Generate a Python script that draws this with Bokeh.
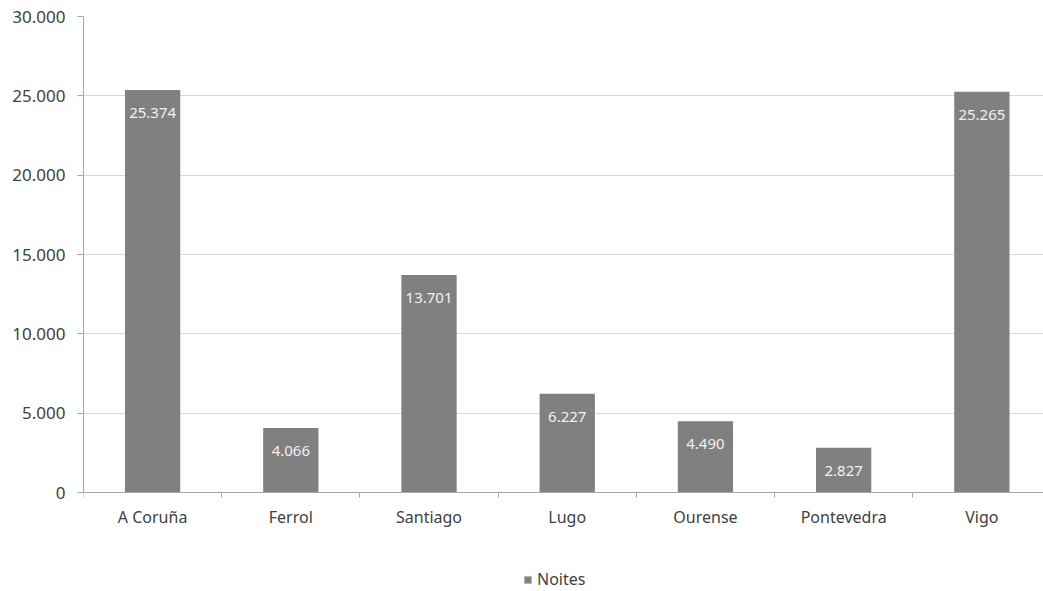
from bokeh.plotting import figure
from bokeh.models import (ColumnDataSource, Range1d, FixedTicker, LabelSet,
                          Legend, LegendItem)
from bokeh.core.properties import value
from bokeh.embed import file_html
from bokeh.resources import INLINE

categories = ["A Coruña", "Ferrol", "Santiago", "Lugo", "Ourense", "Pontevedra", "Vigo"]
noites = [25374, 4066, 13701, 6227, 4490, 2827, 25265]
y_ticks = [0, 5000, 10000, 15000, 20000, 25000, 30000]
series_name = "Noites"

FONT = "Noto Sans"
TXT = "#404040"

# layout: frame spans to the bottom of the figure; value axis occupies 476 px
Y_MAX = 30000
PX_PLOT = 476
PX_BELOW = 99
y_start = -PX_BELOW * Y_MAX / PX_PLOT

xs = [i + 0.5 for i in range(len(categories))]
labels = [f"{v:,}".replace(",", ".") for v in noites]
src = ColumnDataSource(dict(x=xs, top=noites, lab=labels))

p = figure(width=1043, height=591, output_backend="svg", toolbar_location=None,
           x_range=Range1d(0, 6.946), y_range=Range1d(y_start, Y_MAX),
           min_border_left=83, min_border_right=0, min_border_top=16,
           min_border_bottom=0)
p.outline_line_color = None
p.background_fill_color = "white"

r = p.vbar(x="x", top="top", width=0.4, source=src, fill_color="#808080",
           line_color=None)

p.add_layout(LabelSet(x="x", y="top", text="lab", source=src, y_offset=-23,
                      text_align="center", text_baseline="middle",
                      text_color="#f2f2f2", text_font=value(FONT),
                      text_font_size=value("15px")))

# x axis (drawn at y = 0)
xa = p.xaxis[0]
xa.fixed_location = 0
xa.bounds = (0, len(categories))
xa.ticker = FixedTicker(ticks=xs, minor_ticks=list(range(len(categories) + 1)))
xa.major_label_overrides = {x: c for x, c in zip(xs, categories)}
xa.major_tick_out = 0
xa.major_tick_in = 0
xa.minor_tick_out = 5
xa.minor_tick_in = 0
xa.minor_tick_line_color = "#a6a6a6"
xa.axis_line_color = "#a6a6a6"
xa.major_label_text_font = FONT
xa.major_label_text_font_size = "16px"
xa.major_label_text_color = TXT
xa.major_label_standoff = 8

# y axis
ya = p.yaxis[0]
ya.bounds = (0, Y_MAX)
ya.ticker = FixedTicker(ticks=y_ticks, minor_ticks=[])
ya.major_label_overrides = {t: f"{t:,}".replace(",", ".") for t in y_ticks}
ya.major_tick_out = 6
ya.major_tick_in = 0
ya.major_tick_line_color = "#a6a6a6"
ya.axis_line_color = "#a6a6a6"
ya.major_label_text_font = FONT
ya.major_label_text_font_size = "17px"
ya.major_label_text_color = TXT
ya.major_label_standoff = 12

p.xgrid.grid_line_color = None
p.ygrid.grid_line_color = "#d9d9d9"
p.ygrid.ticker = FixedTicker(ticks=y_ticks)

legend = Legend(items=[LegendItem(label=series_name, renderers=[r])],
                location=(440, 1), orientation="horizontal",
                label_text_font=FONT, label_text_font_size="16px",
                label_text_color=TXT, glyph_width=9, glyph_height=9,
                label_standoff=5, padding=0, margin=0, spacing=0,
                label_height=20,
                border_line_color=None, background_fill_alpha=0)
p.add_layout(legend, "center")

open("out.html", "w").write(file_html(p, INLINE))
